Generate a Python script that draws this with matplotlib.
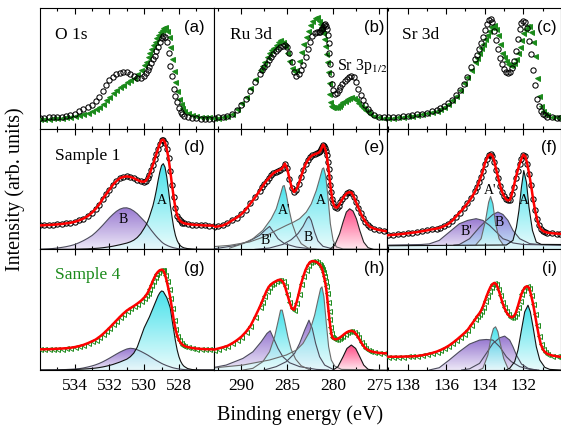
import numpy as np
import matplotlib
matplotlib.use("Agg")
import matplotlib.pyplot as plt
from matplotlib.colors import LinearSegmentedColormap
from matplotlib.patches import Polygon

plt.rcParams["font.family"] = ["Liberation Serif", "DejaVu Serif"]
plt.rcParams["mathtext.fontset"] = "stix"

GREEN = "#1a8a1a"

# ---------------- O 1s ----------------
o1s_energy = [536.0, 535.75, 535.5, 535.25, 535.0, 534.75, 534.5, 534.25, 534.0, 533.75,
              533.5, 533.25, 533.0, 532.8, 532.6, 532.4, 532.2, 532.0, 531.8, 531.6,
              531.4, 531.2, 531.0, 530.8, 530.6, 530.4, 530.2, 530.0, 529.9, 529.8,
              529.7, 529.6, 529.5, 529.4, 529.3, 529.2, 529.1, 529.0, 528.9, 528.8,
              528.7, 528.6, 528.5, 528.4, 528.3, 528.2, 528.1, 528.0, 527.9, 527.8,
              527.7, 527.5, 527.25, 527.0, 526.75, 526.5, 526.25, 526.0]
o1s_s1 = [0.09, 0.092, 0.094, 0.096, 0.098, 0.10, 0.105, 0.11, 0.125, 0.145,
          0.16, 0.18, 0.2, 0.23, 0.26, 0.31, 0.36, 0.40, 0.43, 0.45,
          0.465, 0.47, 0.468, 0.455, 0.435, 0.418, 0.42, 0.435, 0.46, 0.49,
          0.515, 0.545, 0.575, 0.605, 0.64, 0.68, 0.72, 0.755, 0.77, 0.76,
          0.72, 0.63, 0.52, 0.44, 0.33, 0.27, 0.22, 0.17, 0.14, 0.12,
          0.108, 0.098, 0.09, 0.085, 0.083, 0.082, 0.081, 0.08]
o1s_s4 = [0.08, 0.082, 0.084, 0.086, 0.088, 0.09, 0.094, 0.10, 0.105, 0.113,
          0.12, 0.13, 0.145, 0.16, 0.18, 0.205, 0.235, 0.265, 0.295, 0.32,
          0.345, 0.365, 0.385, 0.40, 0.42, 0.45, 0.49, 0.53, 0.555, 0.595,
          0.63, 0.66, 0.69, 0.72, 0.75, 0.78, 0.80, 0.82, 0.835, 0.84,
          0.81, 0.76, 0.68, 0.58, 0.48, 0.39, 0.31, 0.25, 0.205, 0.175,
          0.15, 0.13, 0.115, 0.108, 0.10, 0.096, 0.093, 0.09]
o1s_fit_s1 = [0.198, 0.2, 0.202, 0.204, 0.207, 0.21, 0.215, 0.22, 0.228, 0.24,
              0.255, 0.275, 0.305, 0.335, 0.37, 0.415, 0.455, 0.495, 0.535, 0.565,
              0.59, 0.6, 0.605, 0.6, 0.59, 0.575, 0.563, 0.56, 0.57, 0.59,
              0.62, 0.66, 0.7, 0.745, 0.79, 0.835, 0.875, 0.905, 0.91, 0.885,
              0.83, 0.755, 0.65, 0.535, 0.43, 0.34, 0.28, 0.25, 0.232, 0.222,
              0.216, 0.21, 0.205, 0.202, 0.2, 0.198, 0.197, 0.196]
o1s_s1_A = [0, 0, 0, 0, 0, 0, 0, 0, 0.001, 0.002,
            0.003, 0.004, 0.006, 0.008, 0.01, 0.013, 0.017, 0.021, 0.026, 0.032,
            0.038, 0.045, 0.052, 0.062, 0.076, 0.098, 0.13, 0.175, 0.2, 0.23,
            0.27, 0.315, 0.36, 0.42, 0.49, 0.57, 0.64, 0.695, 0.71, 0.68,
            0.6, 0.49, 0.37, 0.27, 0.18, 0.115, 0.072, 0.045, 0.028, 0.018,
            0.012, 0.006, 0.003, 0.001, 0, 0, 0, 0]
o1s_s1_B = [0.0, 0.002, 0.004, 0.007, 0.011, 0.016, 0.022, 0.03, 0.04, 0.055,
            0.072, 0.092, 0.115, 0.14, 0.168, 0.198, 0.23, 0.262, 0.29, 0.315,
            0.333, 0.343, 0.344, 0.335, 0.318, 0.295, 0.265, 0.235, 0.22, 0.2,
            0.18, 0.16, 0.142, 0.124, 0.107, 0.091, 0.077, 0.062, 0.05, 0.041,
            0.034, 0.027, 0.022, 0.017, 0.013, 0.01, 0.007, 0.005, 0.004, 0.003,
            0.002, 0.001, 0, 0, 0, 0, 0, 0]
o1s_fit_s4 = [0.171, 0.172, 0.173, 0.174, 0.176, 0.178, 0.18, 0.184, 0.19, 0.198,
              0.208, 0.222, 0.238, 0.252, 0.272, 0.295, 0.322, 0.35, 0.38, 0.41,
              0.44, 0.468, 0.493, 0.512, 0.53, 0.55, 0.572, 0.6, 0.618, 0.64,
              0.67, 0.705, 0.74, 0.77, 0.797, 0.815, 0.827, 0.832, 0.825, 0.79,
              0.735, 0.67, 0.6, 0.51, 0.415, 0.34, 0.285, 0.248, 0.225, 0.21,
              0.2, 0.19, 0.183, 0.178, 0.175, 0.173, 0.172, 0.171]
o1s_s4_A = [0, 0, 0, 0, 0, 0.001, 0.002, 0.003, 0.004, 0.006,
            0.008, 0.01, 0.013, 0.016, 0.02, 0.025, 0.031, 0.038, 0.046, 0.056,
            0.066, 0.078, 0.09, 0.11, 0.14, 0.19, 0.27, 0.35, 0.38, 0.41,
            0.44, 0.475, 0.51, 0.545, 0.58, 0.615, 0.64, 0.655, 0.65, 0.625,
            0.6, 0.56, 0.515, 0.42, 0.33, 0.24, 0.165, 0.11, 0.072, 0.046,
            0.03, 0.012, 0.004, 0.001, 0, 0, 0, 0]
o1s_s4_B = [0, 0, 0.001, 0.001, 0.002, 0.003, 0.004, 0.006, 0.008, 0.011,
            0.017, 0.025, 0.034, 0.043, 0.054, 0.067, 0.082, 0.098, 0.115, 0.132,
            0.148, 0.162, 0.174, 0.18, 0.177, 0.168, 0.155, 0.14, 0.132, 0.124,
            0.115, 0.106, 0.097, 0.088, 0.079, 0.071, 0.063, 0.055, 0.048, 0.042,
            0.036, 0.031, 0.026, 0.021, 0.017, 0.014, 0.011, 0.009, 0.007, 0.005,
            0.004, 0.002, 0.001, 0, 0, 0, 0, 0]

# ---------------- Ru 3d ----------------
ru3d_energy = [293.0, 292.5, 292.0, 291.5, 291.0, 290.5, 290.0, 289.5, 289.0, 288.5, 288.0,
               287.75, 287.5, 287.25, 287.0, 286.75, 286.5, 286.25, 286.0, 285.75, 285.5,
               285.25, 285.0, 284.75, 284.5, 284.25, 284.0, 283.75, 283.5, 283.25, 283.0,
               282.75, 282.5, 282.25, 282.0, 281.75,
               281.5, 281.4, 281.3, 281.2, 281.1, 281.0, 280.9, 280.8, 280.7, 280.6,
               280.5, 280.4, 280.3, 280.2, 280.1, 280.0, 279.8, 279.6,
               279.4, 279.2, 279.0, 278.75, 278.5, 278.25, 278.0, 277.75, 277.5, 277.25,
               277.0, 276.75, 276.5, 276.25, 276.0,
               275.5, 275.0, 274.5, 274.0]
ru3d_s1 = [0.092, 0.095, 0.10, 0.107, 0.12, 0.155, 0.20, 0.245, 0.31, 0.385, 0.455,
           0.49, 0.515, 0.54, 0.565, 0.59, 0.615, 0.64, 0.66, 0.675, 0.685,
           0.69, 0.68, 0.63, 0.55, 0.47, 0.44, 0.455, 0.49, 0.53, 0.59,
           0.66, 0.72, 0.765, 0.79, 0.80,
           0.80, 0.805, 0.815, 0.83, 0.845, 0.86, 0.867, 0.855, 0.83, 0.78,
           0.71, 0.63, 0.54, 0.45, 0.37, 0.32, 0.29, 0.295,
           0.32, 0.345, 0.37, 0.395, 0.41, 0.425, 0.433, 0.425, 0.39, 0.33,
           0.28, 0.235, 0.195, 0.165, 0.14,
           0.112, 0.10, 0.094, 0.09]
ru3d_s4 = [0.088, 0.09, 0.095, 0.105, 0.125, 0.165, 0.215, 0.265, 0.34, 0.41, 0.483,
           0.52, 0.555, 0.59, 0.625, 0.65, 0.672, 0.695, 0.715, 0.733, 0.72,
           0.685, 0.63, 0.56, 0.5, 0.475, 0.49, 0.56, 0.635, 0.7, 0.76,
           0.81, 0.86, 0.895, 0.92, 0.925,
           0.89, 0.87, 0.845, 0.815, 0.79, 0.74, 0.685, 0.62, 0.55, 0.47,
           0.38, 0.29, 0.22, 0.185, 0.178, 0.177, 0.177, 0.18,
           0.19, 0.205, 0.217, 0.232, 0.245, 0.255, 0.26, 0.255, 0.235, 0.215,
           0.19, 0.17, 0.152, 0.135, 0.122,
           0.104, 0.096, 0.092, 0.09]
ru3d_fit_s1 = [0.186, 0.19, 0.198, 0.215, 0.24, 0.262, 0.29, 0.33, 0.38, 0.43, 0.485,
               0.515, 0.543, 0.568, 0.59, 0.612, 0.63, 0.643, 0.652, 0.66, 0.675,
               0.71, 0.67, 0.584, 0.51, 0.475, 0.495, 0.54, 0.6, 0.66, 0.705,
               0.74, 0.765, 0.78, 0.788, 0.795,
               0.805, 0.815, 0.83, 0.85, 0.868, 0.86, 0.84, 0.815, 0.78, 0.72,
               0.665, 0.6, 0.53, 0.474, 0.42, 0.385, 0.35, 0.345,
               0.362, 0.39, 0.415, 0.445, 0.465, 0.474, 0.47, 0.435, 0.39, 0.345,
               0.3, 0.262, 0.23, 0.205, 0.187,
               0.17, 0.16, 0.153, 0.149]
ru3d_fit_s4 = [0.168, 0.178, 0.188, 0.2, 0.22, 0.245, 0.275, 0.315, 0.365, 0.44, 0.52,
               0.565, 0.61, 0.655, 0.69, 0.71, 0.725, 0.735, 0.745, 0.749, 0.735,
               0.695, 0.63, 0.565, 0.51, 0.5, 0.555, 0.63, 0.71, 0.775, 0.83,
               0.87, 0.895, 0.903, 0.9, 0.893,
               0.878, 0.868, 0.855, 0.838, 0.81, 0.775, 0.74, 0.7, 0.64, 0.565,
               0.49, 0.42, 0.355, 0.303, 0.275, 0.262, 0.255, 0.256,
               0.262, 0.272, 0.284, 0.3, 0.313, 0.322, 0.325, 0.318, 0.298, 0.27,
               0.235, 0.205, 0.182, 0.168, 0.158,
               0.148, 0.142, 0.139, 0.138]

# fitted components, (binding energy, intensity)
ru3d_s1_B2 = [(293.45, 0.0), (292.36, 0.011), (290.55, 0.033), (289.1, 0.069), (288.0, 0.116),
              (287.35, 0.163), (286.92, 0.19), (286.48, 0.143), (286.0, 0.088), (285.29, 0.047),
              (284.0, 0.019), (282.56, 0.005), (281.1, 0.0)]
ru3d_s1_A2 = [(291.27, 0.01), (289.82, 0.047), (288.73, 0.088), (287.65, 0.157), (286.74, 0.253),
              (286.19, 0.336), (285.76, 0.446), (285.47, 0.523), (285.32, 0.529), (285.1, 0.46),
              (284.81, 0.336), (284.45, 0.212), (284.0, 0.116), (283.47, 0.047), (282.74, 0.011),
              (281.83, 0.0)]
ru3d_s1_B = [(288.5, 0.0), (286.92, 0.011), (285.47, 0.041), (284.56, 0.08), (283.83, 0.13),
             (283.28, 0.19), (282.85, 0.254), (282.63, 0.273), (282.38, 0.24), (282.01, 0.143),
             (281.65, 0.069), (281.1, 0.025), (280.0, 0.003)]
ru3d_s1_A = [(293.45, 0.02), (291.27, 0.033), (289.1, 0.061), (287.65, 0.10), (286.19, 0.157),
             (285.1, 0.198), (284.3, 0.226), (283.65, 0.254), (282.92, 0.309), (282.38, 0.377),
             (281.83, 0.488), (281.47, 0.584), (281.17, 0.667), (281.03, 0.675), (280.81, 0.612),
             (280.56, 0.433), (280.3, 0.212), (280.0, 0.074), (279.65, 0.02), (278.92, 0.003),
             (274.0, 0.0)]
ru3d_s1_sr = [(280.38, 0.0), (279.83, 0.033), (279.29, 0.13), (278.92, 0.226), (278.56, 0.309),
              (278.2, 0.336), (277.83, 0.317), (277.47, 0.254), (277.1, 0.157), (276.67, 0.06),
              (276.2, 0.014), (275.65, 0.0)]

ru3d_s4_B2 = [(293.45, 0.014), (291.64, 0.041), (289.82, 0.096), (288.73, 0.151), (287.83, 0.234),
              (287.2, 0.303), (286.85, 0.325), (286.48, 0.262), (286.0, 0.179), (285.47, 0.11),
              (284.74, 0.06), (283.65, 0.028), (281.83, 0.005), (280.5, 0.0)]
ru3d_s4_A2 = [(289.8, 0.0), (288.73, 0.014), (287.65, 0.069), (286.92, 0.151), (286.37, 0.275),
              (286.0, 0.399), (285.72, 0.496), (285.54, 0.496), (285.29, 0.413), (284.92, 0.275),
              (284.56, 0.17), (284.08, 0.09), (283.47, 0.035), (282.5, 0.0)]
ru3d_s4_B = [(287.5, 0.0), (286.19, 0.028), (285.1, 0.069), (284.19, 0.138), (283.65, 0.22),
             (283.1, 0.33), (282.63, 0.413), (282.27, 0.344), (281.9, 0.22), (281.47, 0.11),
             (280.92, 0.041), (280.0, 0.005)]
ru3d_s4_A = [(293.45, 0.014), (289.82, 0.041), (286.92, 0.083), (285.1, 0.124), (284.0, 0.165),
             (283.28, 0.22), (282.56, 0.317), (282.01, 0.455), (281.65, 0.579), (281.36, 0.675),
             (281.21, 0.689), (281.0, 0.606), (280.74, 0.386), (280.49, 0.193), (280.2, 0.083),
             (279.83, 0.033), (279.1, 0.005), (274.0, 0.0)]
ru3d_s4_sr = [(280.0, 0.0), (279.47, 0.028), (278.92, 0.11), (278.49, 0.179), (278.02, 0.207),
              (277.55, 0.179), (277.1, 0.11), (276.67, 0.041), (276.2, 0.006), (275.65, 0.0)]

# ---------------- Sr 3d ----------------
sr3d_energy = [139.0, 138.75, 138.5, 138.25, 138.0, 137.75, 137.5, 137.25, 137.0, 136.75, 136.5,
               136.3, 136.1, 135.9, 135.7, 135.5, 135.3, 135.1, 134.9, 134.7, 134.5,
               134.4, 134.3, 134.2, 134.1, 134.0, 133.9, 133.8, 133.7, 133.6, 133.5,
               133.4, 133.3, 133.2, 133.1, 133.0, 132.9, 132.8, 132.7, 132.6, 132.5,
               132.4, 132.3, 132.2, 132.1, 132.0, 131.9, 131.8, 131.7, 131.6, 131.5,
               131.4, 131.3, 131.2, 131.1, 131.0, 130.9,
               130.75, 130.5, 130.25, 130.1]
sr3d_s1 = [0.094, 0.097, 0.1, 0.104, 0.108, 0.113, 0.118, 0.125, 0.133, 0.143, 0.155,
           0.168, 0.185, 0.21, 0.24, 0.28, 0.32, 0.37, 0.43, 0.51, 0.575,
           0.61, 0.66, 0.71, 0.76, 0.82, 0.865, 0.9, 0.905, 0.88, 0.81,
           0.733, 0.66, 0.585, 0.535, 0.495, 0.47, 0.461, 0.47, 0.505, 0.56,
           0.64, 0.745, 0.83, 0.872, 0.893, 0.885, 0.835, 0.725, 0.615, 0.49,
           0.36, 0.25, 0.19, 0.15, 0.125, 0.11,
           0.1, 0.094, 0.09, 0.089]
sr3d_s4 = [0.089, 0.092, 0.095, 0.098, 0.102, 0.106, 0.11, 0.118, 0.127, 0.138, 0.15,
           0.16, 0.18, 0.205, 0.235, 0.272, 0.32, 0.375, 0.43, 0.49, 0.55,
           0.585, 0.625, 0.665, 0.705, 0.745, 0.78, 0.81, 0.84, 0.853, 0.858,
           0.83, 0.775, 0.7, 0.63, 0.59, 0.558, 0.54, 0.528, 0.525, 0.545,
           0.58, 0.625, 0.68, 0.733, 0.79, 0.83, 0.85, 0.85, 0.8, 0.72,
           0.6, 0.42, 0.27, 0.19, 0.145, 0.125,
           0.11, 0.1, 0.095, 0.094]
sr3d_fit_s1 = [0.117, 0.12, 0.124, 0.128, 0.133, 0.138, 0.143, 0.15, 0.157, 0.165, 0.172,
               0.18, 0.193, 0.21, 0.235, 0.27, 0.305, 0.34, 0.38, 0.425, 0.48,
               0.515, 0.56, 0.6, 0.65, 0.71, 0.75, 0.78, 0.79, 0.775, 0.725,
               0.655, 0.59, 0.525, 0.475, 0.44, 0.415, 0.405, 0.41, 0.455, 0.52,
               0.59, 0.65, 0.705, 0.75, 0.785, 0.77, 0.71, 0.625, 0.53, 0.42,
               0.33, 0.255, 0.2, 0.17, 0.155, 0.145,
               0.138, 0.133, 0.13, 0.129]
sr3d_fit_s4 = [0.11, 0.11, 0.11, 0.111, 0.112, 0.113, 0.116, 0.122, 0.13, 0.14, 0.152,
               0.165, 0.18, 0.198, 0.22, 0.245, 0.272, 0.3, 0.33, 0.375, 0.42,
               0.445, 0.465, 0.49, 0.525, 0.57, 0.615, 0.655, 0.69, 0.712, 0.722,
               0.71, 0.67, 0.62, 0.565, 0.52, 0.485, 0.46, 0.443, 0.436, 0.445,
               0.47, 0.52, 0.575, 0.63, 0.665, 0.688, 0.694, 0.68, 0.62, 0.55,
               0.46, 0.37, 0.285, 0.215, 0.175, 0.152,
               0.133, 0.12, 0.113, 0.11]

sr3d_s1_B2 = [(139.05, 0.035), (137.3, 0.04), (136.88, 0.045), (136.36, 0.074), (135.84, 0.143),
              (135.32, 0.212), (134.88, 0.24), (134.45, 0.254), (134.1, 0.24), (133.75, 0.198),
              (133.4, 0.143), (133.06, 0.088), (132.8, 0.074), (132.54, 0.053), (132.0, 0.04),
              (130.05, 0.035)]
sr3d_s1_B = [(135.6, 0.035), (135.32, 0.04), (134.79, 0.088), (134.27, 0.184), (133.92, 0.24),
             (133.58, 0.289), (133.32, 0.309), (133.06, 0.289), (132.8, 0.24), (132.54, 0.157),
             (132.19, 0.088), (131.67, 0.047), (131.15, 0.04), (130.05, 0.035)]
sr3d_s1_A2 = [(134.45, 0.04), (134.19, 0.088), (133.96, 0.24), (133.8, 0.39), (133.7, 0.438),
              (133.58, 0.377), (133.44, 0.212), (133.26, 0.088), (133.06, 0.041)]
sr3d_s1_A = [(139.05, 0.03), (132.88, 0.036), (132.54, 0.074), (132.36, 0.184), (132.23, 0.322),
             (132.1, 0.515), (131.98, 0.653), (131.84, 0.556), (131.71, 0.35), (131.53, 0.157),
             (131.33, 0.06), (131.07, 0.041), (130.05, 0.04)]

sr3d_s4_B2 = [(136.88, 0.0), (136.36, 0.019), (135.84, 0.083), (135.32, 0.152), (134.79, 0.215),
              (134.27, 0.248), (133.92, 0.253), (133.58, 0.248), (133.23, 0.193), (132.88, 0.11),
              (132.62, 0.069), (132.19, 0.028), (131.67, 0.005), (131.2, 0.0)]
sr3d_s4_B = [(135.2, 0.0), (134.79, 0.01), (134.27, 0.055), (133.92, 0.138), (133.58, 0.22),
             (133.23, 0.267), (132.97, 0.281), (132.71, 0.248), (132.54, 0.193), (132.36, 0.124),
             (132.1, 0.05), (131.76, 0.014), (131.33, 0.0)]
sr3d_s4_A2 = [(134.3, 0.0), (134.1, 0.014), (133.84, 0.124), (133.67, 0.275), (133.55, 0.344),
              (133.44, 0.358), (133.32, 0.317), (133.2, 0.22), (133.02, 0.096), (132.8, 0.014),
              (132.6, 0.0)]
sr3d_s4_A = [(132.9, 0.0), (132.71, 0.014), (132.45, 0.069), (132.28, 0.165), (132.1, 0.331),
             (131.93, 0.482), (131.76, 0.537), (131.64, 0.482), (131.5, 0.358), (131.33, 0.193),
             (131.15, 0.083), (130.89, 0.022), (130.63, 0.005), (130.05, 0.0)]

# fill gradients: (peak colour, base colour)
CYAN = ("#25dde8", "#e6fbfc")
PURPLE = ("#8560c8", "#e9e3f6")
VIOLET_BLUE = ("#7a66d4", "#bde4f6")
PINK = ("#ff2a70", "#ffe4ec")


def add_component(ax, points, shade, edge="#555555"):
    energy = np.array([p[0] for p in points])
    height = np.array([p[1] for p in points])
    verts = [(energy[0], 0.0)] + list(zip(energy, height)) + [(energy[-1], 0.0)]
    outline = Polygon(verts, closed=True, facecolor="none", edgecolor="none")
    ax.add_patch(outline)
    cmap = LinearSegmentedColormap.from_list("shade", [shade[1], shade[0]])
    img = ax.imshow(np.linspace(0, 1, 128).reshape(-1, 1), cmap=cmap, origin="lower",
                    aspect="auto", alpha=0.85, zorder=1, interpolation="bilinear",
                    extent=(energy.min(), energy.max(), 0, height.max()))
    img.set_clip_path(outline)
    ax.plot(energy, height, color=edge, lw=0.8, zorder=2)


def style_axis(ax, xlim, major, minor, labels):
    ax.set_xlim(xlim)
    ax.set_ylim(0, 1)
    ax.set_xticks(major)
    ax.set_xticks(minor, minor=True)
    ax.set_yticks([])
    ax.tick_params(axis="x", which="both", direction="in", top=True, bottom=True,
                   labelbottom=labels, labelsize=12.5, pad=5.5, width=0.8)
    ax.tick_params(axis="x", which="major", length=4)
    ax.tick_params(axis="x", which="minor", length=2.5)
    for spine in ax.spines.values():
        spine.set_linewidth(0.8)


def open_circles(ax, x, y):
    ax.plot(x, y, ls="none", marker="o", ms=3.8, mfc="none", mec="black", mew=0.75, zorder=4)


def triangles(ax, x, y, filled=True):
    ax.plot(x, y, ls="none", marker="<", ms=3.6, mec=GREEN, mew=0.7,
            mfc=GREEN if filled else "none", zorder=3)


def fit_line(ax, x, y):
    ax.plot(x, y, color="red", lw=1.8, zorder=5)


fig = plt.figure(figsize=(5.61, 4.28), dpi=100)
gs = fig.add_gridspec(3, 3, left=0.0713, right=1.0, bottom=0.1355, top=0.9813,
                      wspace=0, hspace=0)
axs = [[fig.add_subplot(gs[r, c]) for c in range(3)] for r in range(3)]

# top row: both samples compared
triangles(axs[0][0], o1s_energy, o1s_s4)
open_circles(axs[0][0], o1s_energy, o1s_s1)
triangles(axs[0][1], ru3d_energy, ru3d_s4)
open_circles(axs[0][1], ru3d_energy, ru3d_s1)
triangles(axs[0][2], sr3d_energy, sr3d_s4)
open_circles(axs[0][2], sr3d_energy, sr3d_s1)

# middle row: sample 1 with fitted components
ax = axs[1][0]
add_component(ax, list(zip(o1s_energy, o1s_s1_B)), PURPLE, "#4c4c5c")
add_component(ax, list(zip(o1s_energy, o1s_s1_A)), CYAN, "#111111")
open_circles(ax, o1s_energy, o1s_fit_s1)
fit_line(ax, o1s_energy, o1s_fit_s1)

ax = axs[1][1]
add_component(ax, ru3d_s1_B2, PURPLE, "#4c4c5c")
add_component(ax, ru3d_s1_A2, CYAN, "#6a6a6a")
add_component(ax, ru3d_s1_B, PURPLE, "#4c4c5c")
add_component(ax, ru3d_s1_A, CYAN, "#6a6a6a")
add_component(ax, ru3d_s1_sr, PINK, "#222222")
open_circles(ax, ru3d_energy, ru3d_fit_s1)
fit_line(ax, ru3d_energy, ru3d_fit_s1)

ax = axs[1][2]
add_component(ax, sr3d_s1_B2, PURPLE, "#4c4c5c")
add_component(ax, sr3d_s1_B, VIOLET_BLUE, "#4c4c5c")
add_component(ax, sr3d_s1_A2, CYAN, "#6a6a6a")
add_component(ax, sr3d_s1_A, CYAN, "#111111")
open_circles(ax, sr3d_energy, sr3d_fit_s1)
fit_line(ax, sr3d_energy, sr3d_fit_s1)

# bottom row: sample 4 with fitted components
ax = axs[2][0]
add_component(ax, list(zip(o1s_energy, o1s_s4_B)), PURPLE, "#4c4c5c")
add_component(ax, list(zip(o1s_energy, o1s_s4_A)), CYAN, "#111111")
triangles(ax, o1s_energy, o1s_fit_s4, filled=False)
fit_line(ax, o1s_energy, o1s_fit_s4)

ax = axs[2][1]
add_component(ax, ru3d_s4_B2, PURPLE, "#4c4c5c")
add_component(ax, ru3d_s4_A2, CYAN, "#6a6a6a")
add_component(ax, ru3d_s4_B, PURPLE, "#4c4c5c")
add_component(ax, ru3d_s4_A, CYAN, "#6a6a6a")
add_component(ax, ru3d_s4_sr, PINK, "#111111")
triangles(ax, ru3d_energy, ru3d_fit_s4, filled=False)
fit_line(ax, ru3d_energy, ru3d_fit_s4)

ax = axs[2][2]
add_component(ax, sr3d_s4_B2, PURPLE, "#4c4c5c")
add_component(ax, sr3d_s4_B, PURPLE, "#4c4c5c")
add_component(ax, sr3d_s4_A2, CYAN, "#6a6a6a")
add_component(ax, sr3d_s4_A, CYAN, "#111111")
triangles(ax, sr3d_energy, sr3d_fit_s4, filled=False)
fit_line(ax, sr3d_energy, sr3d_fit_s4)

# axes, ticks
for r in range(3):
    style_axis(axs[r][0], (536.0, 526.0), [534, 532, 530, 528], [535, 533, 531, 529, 527], r == 2)
    style_axis(axs[r][1], (293.0, 274.1), [290, 285, 280, 275], [292.5, 287.5, 282.5, 277.5], r == 2)
    style_axis(axs[r][2], (139.05, 130.05), [138, 136, 134, 132], [139, 137, 135, 133, 131], r == 2)

# panel letters
letters = [["(a)", "(b)", "(c)"], ["(d)", "(e)", "(f)"], ["(g)", "(h)", "(i)"]]
letter_x = [0.948, 0.985, 0.975]
for r in range(3):
    for c in range(3):
        axs[r][c].text(letter_x[c], 0.84, letters[r][c], transform=axs[r][c].transAxes,
                       ha="right", va="center", fontsize=12, family="Liberation Sans", zorder=6)

# core level names and sample names
axs[0][0].text(0.086, 0.775, "O 1s", transform=axs[0][0].transAxes, va="center", fontsize=12.5)
axs[0][1].text(0.092, 0.775, "Ru 3d", transform=axs[0][1].transAxes, va="center", fontsize=12.5)
axs[0][1].text(0.713, 0.483, "Sr 3p$_{\\mathrm{1/2}}$", transform=axs[0][1].transAxes,
               va="baseline", fontsize=11.5, zorder=6)
axs[0][2].text(0.087, 0.775, "Sr 3d", transform=axs[0][2].transAxes, va="center", fontsize=12.5)
axs[1][0].text(0.086, 0.777, "Sample 1", transform=axs[1][0].transAxes, va="center", fontsize=12.5)
axs[2][0].text(0.086, 0.785, "Sample 4", transform=axs[2][0].transAxes, va="center",
               fontsize=12.5, color=GREEN)

# component names
for ax, name, e, v in [(axs[1][0], "A", 529.0, 0.405), (axs[1][0], "B", 531.2, 0.245),
                       (axs[1][1], "A'", 285.3, 0.322), (axs[1][1], "A", 281.3, 0.405),
                       (axs[1][1], "B'", 287.3, 0.074), (axs[1][1], "B", 282.75, 0.10),
                       (axs[1][2], "A'", 133.7, 0.488), (axs[1][2], "A", 131.98, 0.405),
                       (axs[1][2], "B'", 134.93, 0.151), (axs[1][2], "B", 133.23, 0.226)]:
    ax.text(e, v, name, ha="center", va="center", fontsize=10, zorder=6)

fig.text(0.0267, 0.558, "Intensity (arb. units)", rotation=90, ha="center", va="center", fontsize=14.5)
fig.text(0.5357, 0.006, "Binding energy (eV)", ha="center", va="bottom", fontsize=14.5)

fig.savefig("out.png", dpi=100)
